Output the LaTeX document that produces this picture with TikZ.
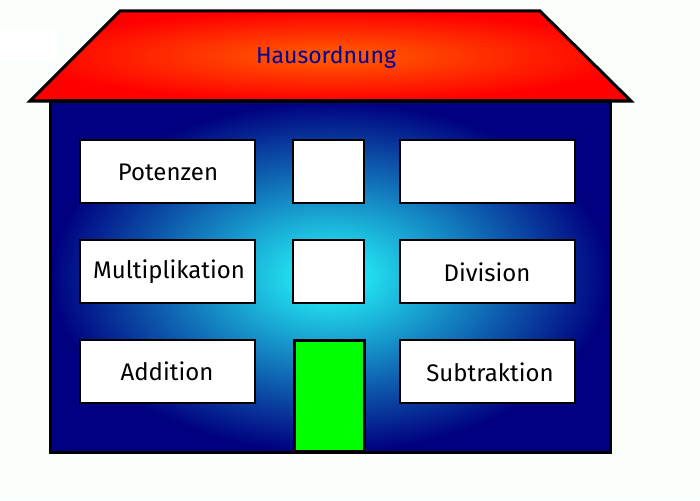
\documentclass[tikz,border=0pt]{standalone}
\usepackage{fontspec}
\setmainfont{Fira Sans}
\begin{document}
\begin{tikzpicture}[x=1pt,y=-1pt,
  win/.style={draw=black,line width=2pt,fill=white},
  lbl/.style={font=\fontsize{24}{26}\selectfont}]
\useasboundingbox (0,0) rectangle (700,500);
\fill[white!96!green!40!white] (0,0) rectangle (700,500);
\fill[white] (0,30) rectangle (58,60);
% roof
\shade[inner color=orange!75!red, outer color=red, draw=black, line width=3pt]
  (30,101) -- (120,11) -- (540,11) -- (631,101) -- cycle;
\node[font=\fontsize{23}{25}\selectfont, text=blue!60!black] (title) at (326,57) {Hausordnung};
% body
\shade[inner color=cyan!85!white, outer color=blue!50!black, draw=black, line width=3pt]
  (50,101) rectangle (610,452);
% windows
\draw[win] (80,140) rectangle (255,203);
\node[lbl] (pot) at (168,172) {Potenzen};
\draw[win] (293,140) rectangle (364,203);
\draw[win] (400,140) rectangle (575,203);
\draw[win] (80,240) rectangle (255,303);
\node[lbl] (mul) at (169,272) {Multiplikation};
\draw[win] (293,240) rectangle (364,303);
\draw[win] (400,240) rectangle (575,303);
\node[lbl] (div) at (487,272) {Division};
\draw[win] (80,340) rectangle (255,403);
\node[lbl] (add) at (167,371) {Addition};
\draw[win] (400,340) rectangle (575,403);
\node[lbl] (sub) at (490,372) {Subtraktion};
% door
\draw[draw=black,line width=3pt,fill=green] (294,340) rectangle (364,451);
\end{tikzpicture}
\end{document}
